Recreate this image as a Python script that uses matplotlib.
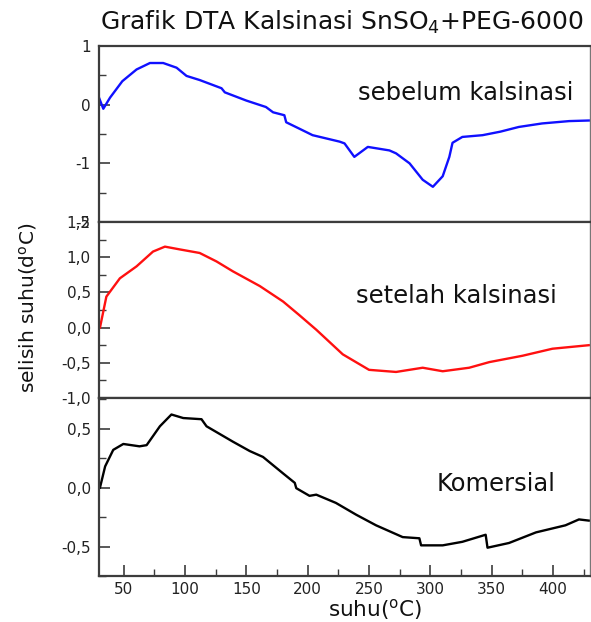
import numpy as np
import matplotlib
matplotlib.use("Agg")
import matplotlib.pyplot as plt
from matplotlib.ticker import MultipleLocator

plt.rcParams['font.family'] = ['DejaVu Sans']

# sebelum kalsinasi (blue)
x_sebelum = [30, 33.5, 39, 49, 60.6, 71.5, 82.3, 93.2, 101.3, 112, 129.8, 132.5, 150, 166,
             171.8, 181, 182.5, 193.3, 204, 226, 230, 238, 249, 266.6, 272, 283, 293.7,
             302, 310, 315.4, 318, 326, 342.5, 357, 372, 391, 413, 429]
y_sebelum = [0.12, -0.07, 0.12, 0.40, 0.60, 0.71, 0.71, 0.63, 0.49, 0.42, 0.28, 0.21, 0.07, -0.04,
             -0.13, -0.18, -0.30, -0.41, -0.52, -0.63, -0.66, -0.89, -0.72, -0.78, -0.83, -1.0, -1.28,
             -1.40, -1.22, -0.89, -0.65, -0.55, -0.52, -0.46, -0.38, -0.32, -0.28, -0.27]

# setelah kalsinasi (red)
x_setelah = [30.8, 36, 47, 60.6, 74, 83.7, 96, 112, 125.7, 139, 161, 180, 193, 207, 228.6,
             250, 272, 293.7, 310, 331.6, 348, 375, 399.4, 429]
y_setelah = [0.0, 0.44, 0.70, 0.87, 1.08, 1.15, 1.11, 1.06, 0.94, 0.80, 0.59, 0.37, 0.18, -0.03, -0.38,
             -0.60, -0.63, -0.57, -0.62, -0.57, -0.49, -0.40, -0.30, -0.25]

# komersial (black)
x_komersial = [30.8, 35, 41.6, 49.8, 63, 68.8, 79.6, 89, 98.6, 113.5, 117.6, 139, 152.8, 163.6,
               180, 189.5, 190.7, 201.5, 207, 223, 239.5, 255.7, 277.4, 291, 292.4, 310, 326,
               345, 346.5, 364, 386, 410, 421, 429]
y_komersial = [0.0, 0.18, 0.32, 0.37, 0.35, 0.36, 0.52, 0.62, 0.59, 0.58, 0.52, 0.39, 0.31, 0.26,
               0.12, 0.04, -0.005, -0.07, -0.06, -0.13, -0.23, -0.32, -0.42, -0.43, -0.49, -0.49, -0.46,
               -0.40, -0.51, -0.47, -0.38, -0.32, -0.27, -0.28]

x_ticks = [50, 100, 150, 200, 250, 300, 350, 400]
top_ticks = [-2, -1, 0, 1]
top_labels = ['-2', '-1', '0', '1']
mid_ticks = [-1.0, -0.5, 0.0, 0.5, 1.0, 1.5]
mid_labels = ['-1,0', '-0,5', '0,0', '0,5', '1,0', '1,5']
bot_ticks = [-0.5, 0.0, 0.5]
bot_labels = ['-0,5', '0,0', '0,5']

W, H = 591, 622
fig = plt.figure(figsize=(W / 100, H / 100), dpi=100)

left = 99 / W
width = (590 - 99) / W
def box(top_px, bot_px):
    return [left, 1 - bot_px / H, width, (bot_px - top_px) / H]

ax1 = fig.add_axes(box(46, 222))
ax2 = fig.add_axes(box(222, 398))
ax3 = fig.add_axes(box(398, 576))

spine_col = '#3c3c3c'
for ax in (ax1, ax2, ax3):
    ax.set_xlim(30, 430)
    for s in ax.spines.values():
        s.set_color(spine_col)
        s.set_linewidth(1.6)
    ax.spines['right'].set_color('#777777')
    ax.spines['right'].set_linewidth(1.0)
    ax.tick_params(axis='both', which='major', direction='in', length=8, width=1.2, pad=6,
                   color=spine_col, labelsize=11, labelcolor='#222222', right=False, top=False)
    ax.tick_params(axis='both', which='minor', direction='in', length=5, width=1.0,
                   color=spine_col, right=False, top=False)
    ax.set_xticks(x_ticks)
    ax.xaxis.set_minor_locator(MultipleLocator(25))

ax1.plot(x_sebelum, y_sebelum, color='#1010ff', lw=1.7)
ax1.set_ylim(-2, 1)
ax1.set_yticks(top_ticks)
ax1.set_yticklabels(top_labels)
ax1.yaxis.set_minor_locator(MultipleLocator(0.5))

ax2.plot(x_setelah, y_setelah, color='#ff1010', lw=1.7)
ax2.set_ylim(-1.0, 1.5)
ax2.set_yticks(mid_ticks)
ax2.set_yticklabels(mid_labels)
ax2.yaxis.set_minor_locator(MultipleLocator(0.25))

ax3.plot(x_komersial, y_komersial, color='#000000', lw=1.7)
ax3.set_ylim(-0.75, 0.76)
ax3.set_yticks(bot_ticks)
ax3.set_yticklabels(bot_labels)
ax3.yaxis.set_minor_locator(MultipleLocator(0.25))
ax3.tick_params(axis='x', which='major', pad=4)

for ax in (ax1, ax2):
    ax.tick_params(axis='x', which='both', bottom=False, labelbottom=False)

txt = dict(ha='center', va='center', color='#111111')
fig.text(466 / W, 1 - 93 / H, 'sebelum kalsinasi', fontsize=17.5, **txt)
fig.text(456 / W, 1 - 296 / H, 'setelah kalsinasi', fontsize=17.5, **txt)
fig.text(496 / W, 1 - 484 / H, 'Komersial', fontsize=17.5, **txt)

fig.text(342 / W, 1 - 22 / H, r'Grafik DTA Kalsinasi SnSO$_\mathregular{4}$+PEG-6000', fontsize=18, **txt)
fig.text(28 / W, 1 - 308 / H, r'selisih suhu(d$^\mathregular{o}$C)', fontsize=14.5, rotation=90, **txt)
fig.text(375 / W, 1 - 621.5 / H, r'suhu($^\mathregular{o}$C)', fontsize=15.5,
         ha='center', va='bottom', color='#111111')

fig.savefig('out.png', dpi=100)
